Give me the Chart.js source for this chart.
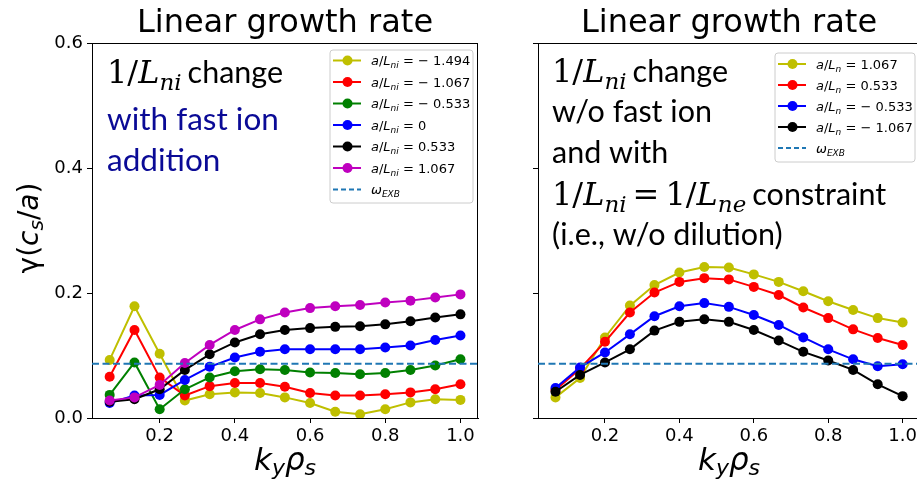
<!DOCTYPE html>
<html>
<head>
<meta charset="utf-8">
<script src="https://cdn.jsdelivr.net/npm/chart.js"></script>
<style>
  html, body { margin: 0; padding: 0; background: #fff; overflow: hidden; width: 917px; height: 485px; }
  #left { position: absolute; left: 0; top: 0; }
  #right { position: absolute; left: 500px; top: 0; }
</style>
</head>
<body>
<canvas id="left" width="500" height="485"></canvas>
<canvas id="right" width="430" height="485"></canvas>
<script>
// k_y rho_s grid
const ky = [0.067, 0.133, 0.2, 0.267, 0.333, 0.4, 0.467, 0.533, 0.6, 0.667, 0.733, 0.8, 0.867, 0.933, 1.0];

// growth rate with fast ions, one list per a/L_ni
const fiNeg1494 = [0.093, 0.179, 0.103, 0.028, 0.038, 0.041, 0.040, 0.033, 0.024, 0.010, 0.006, 0.014, 0.025, 0.030, 0.029];
const fiNeg1067 = [0.066, 0.141, 0.065, 0.036, 0.051, 0.056, 0.056, 0.050, 0.040, 0.036, 0.036, 0.038, 0.041, 0.046, 0.054];
const fiNeg0533 = [0.037, 0.089, 0.014, 0.046, 0.065, 0.075, 0.078, 0.077, 0.073, 0.072, 0.070, 0.072, 0.077, 0.084, 0.094];
const fiZero    = [0.024, 0.036, 0.037, 0.061, 0.082, 0.097, 0.106, 0.110, 0.110, 0.110, 0.110, 0.113, 0.116, 0.125, 0.132];
const fiPos0533 = [0.026, 0.030, 0.046, 0.077, 0.102, 0.121, 0.134, 0.141, 0.144, 0.146, 0.147, 0.150, 0.155, 0.161, 0.166];
const fiPos1067 = [0.028, 0.033, 0.053, 0.088, 0.117, 0.141, 0.158, 0.169, 0.176, 0.179, 0.181, 0.185, 0.188, 0.193, 0.198];

// growth rate without fast ions (1/L_ni = 1/L_ne)
const noFiPos1067 = [0.033, 0.064, 0.129, 0.180, 0.213, 0.233, 0.242, 0.241, 0.230, 0.218, 0.203, 0.187, 0.173, 0.160, 0.153];
const noFiPos0533 = [0.045, 0.079, 0.122, 0.169, 0.201, 0.218, 0.224, 0.222, 0.210, 0.197, 0.177, 0.160, 0.142, 0.128, 0.117];
const noFiNeg0533 = [0.048, 0.081, 0.105, 0.134, 0.163, 0.179, 0.184, 0.178, 0.165, 0.149, 0.129, 0.110, 0.094, 0.083, 0.086];
const noFiNeg1067 = [0.042, 0.069, 0.089, 0.110, 0.140, 0.154, 0.158, 0.154, 0.141, 0.124, 0.106, 0.092, 0.077, 0.054, 0.035];

const omegaExB = 0.087;

const fiLabels = ['− 1.494', '− 1.067', '− 0.533', '0', '0.533', '1.067'];
const noFiLabels = ['1.067', '0.533', '− 0.533', '− 1.067'];
const yTicks = [0, 0.2, 0.4, 0.6];
const xTicks = [0.2, 0.4, 0.6, 0.8, 1.0];
const xRange = [0.02, 1.0467];

const fiColors = ['#bfbf00', '#ff0000', '#008000', '#0000ff', '#000000', '#bf00bf'];
const noFiColors = ['#bfbf00', '#ff0000', '#0000ff', '#000000'];

const SANS = '"DejaVu Sans", sans-serif';
const SERIF = '"DejaVu Serif", serif';
const TEXT = 'Lato, "Open Sans", sans-serif';

// rich text: list of {t, f, dy, c}
function runsWidth(ctx, parts) {
  let w = 0;
  parts.forEach(p => { ctx.font = p.f; w += ctx.measureText(p.t).width; });
  return w;
}
function drawRuns(ctx, x, y, parts, color) {
  parts.forEach(p => {
    ctx.font = p.f;
    ctx.fillStyle = p.c || color || '#000';
    ctx.fillText(p.t, x, y + (p.dy || 0));
    x += ctx.measureText(p.t).width;
  });
  return x;
}

// math fragments used in the notes
const mr = `32px ${SERIF}`, mi = `italic 32px ${SERIF}`, ms = `italic 23px ${SERIF}`;
const gap = { t: ' ', f: `19px ${SERIF}` };
const tx = `30.5px ${TEXT}`;
const invL = sub => [{ t: '1/', f: mr }, { t: 'L', f: mi }, { t: sub, f: ms, dy: 7 }, gap];

const xTitle = [
  { t: 'k', f: `italic 31px ${SANS}` }, { t: 'y', f: `italic 22px ${SANS}`, dy: 5 },
  { t: 'ρ', f: `italic 31px ${SANS}` }, { t: 's', f: `italic 22px ${SANS}`, dy: 5 }
];
const yTitle = [
  { t: 'γ(', f: `28px ${SANS}` }, { t: 'c', f: `italic 28px ${SANS}` },
  { t: 's', f: `italic 20px ${SANS}`, dy: 5 }, { t: '/', f: `28px ${SANS}` },
  { t: 'a', f: `italic 28px ${SANS}` }, { t: ')', f: `28px ${SANS}` }
];

function legendRuns(ds) {
  const it = `italic 13px ${SANS}`, rm = `13px ${SANS}`, sb = `italic 9px ${SANS}`;
  if (ds.exb) return [{ t: 'ω', f: it }, { t: 'EXB', f: sb, dy: 3 }];
  return [{ t: 'a', f: it }, { t: '/', f: rm }, { t: 'L', f: it }, { t: ds.sub, f: sb, dy: 3 },
          { t: ' = ', f: rm }, { t: ds.val, f: rm }];
}

function drawLegend(ctx, chart, L) {
  const { x, y, w, h, row0, rowH } = L;
  ctx.save();
  ctx.beginPath();
  const r = 3;
  ctx.moveTo(x + r, y); ctx.lineTo(x + w - r, y); ctx.quadraticCurveTo(x + w, y, x + w, y + r);
  ctx.lineTo(x + w, y + h - r); ctx.quadraticCurveTo(x + w, y + h, x + w - r, y + h);
  ctx.lineTo(x + r, y + h); ctx.quadraticCurveTo(x, y + h, x, y + h - r);
  ctx.lineTo(x, y + r); ctx.quadraticCurveTo(x, y, x + r, y);
  ctx.fillStyle = 'rgba(255,255,255,0.8)';
  ctx.fill();
  ctx.strokeStyle = '#cccccc'; ctx.lineWidth = 1;
  ctx.stroke();
  chart.data.datasets.forEach((ds, i) => {
    const cy = y + row0 + i * rowH;
    ctx.strokeStyle = ds.borderColor;
    ctx.lineWidth = ds.borderWidth;
    ctx.setLineDash(ds.exb ? [5, 3] : []);
    ctx.beginPath(); ctx.moveTo(x + 3, cy); ctx.lineTo(x + 31, cy); ctx.stroke();
    ctx.setLineDash([]);
    if (!ds.exb) {
      ctx.fillStyle = ds.borderColor;
      ctx.beginPath(); ctx.arc(x + 17.5, cy, 5, 0, Math.PI * 2); ctx.fill();
    }
    ctx.textBaseline = 'alphabetic';
    drawRuns(ctx, x + 41, cy + 4.5, legendRuns(ds));
  });
  ctx.restore();
}

// spines, axis titles, legend box and the text notes
const decor = {
  id: 'mplDecor',
  afterDraw(chart, args, o) {
    const ctx = chart.ctx, a = chart.chartArea;
    ctx.save();
    ctx.strokeStyle = '#000'; ctx.lineWidth = 1;
    ctx.beginPath();
    ctx.moveTo(a.left, Math.round(a.top) + 0.5); ctx.lineTo(a.right, Math.round(a.top) + 0.5);
    ctx.moveTo(Math.round(a.right) - 0.5, a.top); ctx.lineTo(Math.round(a.right) - 0.5, a.bottom);
    ctx.stroke();
    ctx.textAlign = 'left'; ctx.textBaseline = 'alphabetic';
    const cx = (a.left + a.right) / 2;
    drawRuns(ctx, cx - runsWidth(ctx, xTitle) / 2, o.xTitleY, xTitle);
    if (o.yTitle) {
      ctx.save();
      ctx.translate(o.yTitle.x, o.yTitle.y);
      ctx.rotate(-Math.PI / 2);
      drawRuns(ctx, -runsWidth(ctx, yTitle) / 2, 0, yTitle);
      ctx.restore();
    }
    drawLegend(ctx, chart, o.legend);
    o.notes.forEach(n => drawRuns(ctx, o.noteX, n.y, n.parts, n.color));
    ctx.restore();
  }
};

function series(vals, color, val, sub, i, n) {
  return {
    label: 'a/L' + sub + ' = ' + val, sub, val,
    data: ky.map((k, j) => ({ x: k, y: vals[j] })),
    borderColor: color, backgroundColor: color,
    pointBackgroundColor: color, pointBorderColor: color,
    borderWidth: 2, pointRadius: 5, pointBorderWidth: 0,
    order: n - i
  };
}
function exbLine() {
  return {
    label: 'ωEXB', exb: true,
    data: xRange.map(x => ({ x, y: omegaExB })),
    borderColor: '#1f77b4', borderDash: [7, 3.5], borderWidth: 2,
    pointRadius: 0, order: 0
  };
}

function makeChart(id, datasets, cfg) {
  const tickFont = { family: SANS, size: 18 };
  return new Chart(document.getElementById(id), {
    type: 'line',
    data: { datasets },
    options: {
      responsive: false,
      animation: false,
      events: [],
      layout: { padding: { left: 0, right: cfg.padRight, top: 0, bottom: 0 } },
      plugins: {
        legend: { display: false },
        tooltip: { enabled: false },
        title: {
          display: true, text: 'Linear growth rate', fullSize: false, color: '#000',
          font: { family: SANS, size: 32, weight: 'normal', lineHeight: 1.2 },
          padding: { top: 4, bottom: 1 }
        },
        mplDecor: cfg.decor
      },
      scales: {
        x: {
          type: 'linear', min: xRange[0], max: xRange[1],
          afterBuildTicks: s => { s.ticks = xTicks.map(v => ({ value: v })); },
          afterFit: s => { s.height = 67; },
          ticks: { color: '#000', font: tickFont, padding: 3, maxRotation: 0, callback: v => v.toFixed(1) },
          grid: { drawOnChartArea: false, drawTicks: true, tickLength: 5, color: '#000' },
          border: { display: true, color: '#000', width: 1 }
        },
        y: {
          min: 0, max: 0.6,
          afterBuildTicks: s => { s.ticks = yTicks.map(v => ({ value: v })); },
          afterFit: s => { s.width = cfg.yWidth; },
          ticks: { display: cfg.yLabels, color: '#000', font: tickFont, padding: 4, callback: v => v.toFixed(1) },
          grid: { drawOnChartArea: false, drawTicks: true, tickLength: 5, color: '#000' },
          border: { display: true, color: '#000', width: 1 }
        }
      }
    },
    plugins: [decor]
  });
}

const fiSets = [fiNeg1494, fiNeg1067, fiNeg0533, fiZero, fiPos0533, fiPos1067]
  .map((v, i, all) => series(v, fiColors[i], fiLabels[i], 'ni', i, all.length));
fiSets.push(exbLine());

const noFiSets = [noFiPos1067, noFiPos0533, noFiNeg0533, noFiNeg1067]
  .map((v, i, all) => series(v, noFiColors[i], noFiLabels[i], 'n', i, all.length));
noFiSets.push(exbLine());

const navy = '#0a0a96';

makeChart('left', fiSets, {
  padRight: 22, yWidth: 92, yLabels: true,
  decor: {
    xTitleY: 470,
    yTitle: { x: 38, y: 228 },
    legend: { x: 330, y: 50, w: 143, h: 153, row0: 10.5, rowH: 21.5 },
    noteX: 107,
    notes: [
      { y: 83, parts: invL('ni').concat([{ t: 'change', f: tx }]) },
      { y: 130, parts: [{ t: 'with fast ion', f: `31.5px ${TEXT}` }], color: navy },
      { y: 171, parts: [{ t: 'addition', f: `31.5px ${TEXT}` }], color: navy }
    ]
  }
});

makeChart('right', noFiSets, {
  padRight: 10, yWidth: 38, yLabels: false,
  decor: {
    xTitleY: 470,
    yTitle: null,
    legend: { x: 275, y: 53, w: 140, h: 109, row0: 11, rowH: 21 },
    noteX: 52,
    notes: [
      { y: 82, parts: invL('ni').concat([{ t: 'change', f: tx }]) },
      { y: 122, parts: [{ t: 'w/o fast ion', f: tx }] },
      { y: 163, parts: [{ t: 'and with', f: tx }] },
      { y: 205, parts: invL('ni').concat([{ t: '=', f: mr }, gap], invL('ne'), [{ t: 'constraint', f: tx }]) },
      { y: 245, parts: [{ t: '(i.e., w/o dilution)', f: tx }] }
    ]
  }
});
</script>
</body>
</html>
